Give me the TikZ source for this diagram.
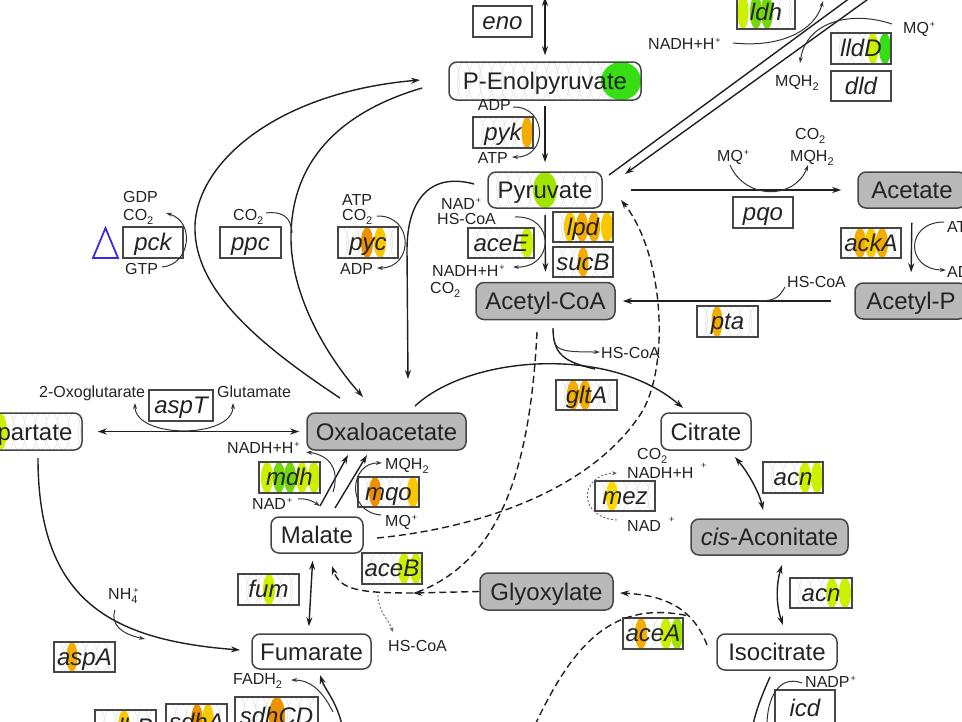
\documentclass[tikz,border=0pt]{standalone}
\usepackage{fontspec}
\setmainfont{Liberation Sans}
\usetikzlibrary{arrows.meta,calc}
\definecolor{bd}{RGB}{70,70,70}
\definecolor{mgray}{RGB}{185,185,185}
\definecolor{ink}{RGB}{35,35,35}
\definecolor{oD}{RGB}{238,145,0}
\definecolor{oM}{RGB}{245,172,0}
\definecolor{oY}{RGB}{250,200,0}
\definecolor{yE}{RGB}{250,218,0}
\definecolor{yG}{RGB}{205,240,0}
\definecolor{gL}{RGB}{160,228,0}
\definecolor{gM}{RGB}{115,215,10}
\definecolor{gB}{RGB}{55,222,20}
\definecolor{tri}{RGB}{60,40,230}
\newcommand\sps{\kern1pt\raisebox{6pt}{\fontsize{9}{9}\selectfont +}}
\newcommand\sbs[1]{\raisebox{-4pt}{\fontsize{11}{11}\selectfont #1}}
\newcommand\decor[6]{%
 \begin{scope}
 \clip[rounded corners=#5] (#1,#2) rectangle (#3,#4);
 \pgfmathsetmacro\dcY{(#2+#4)/2}%
 \pgfmathsetmacro\dcR{(#4-#2)/2}%
 \foreach \k in {0,...,19} {\draw[patt] ({#1+4+11*\k},\dcY) ellipse [x radius=6.5, y radius=\dcR];}
 \foreach \cx/\cc/\rx in {#6} {\fill[\cc] (\cx,\dcY) ellipse [x radius=\rx, y radius=\dcR];}
 \end{scope}}
\newcommand\enzb[6]{%
 \pgfmathsetmacro\ebW{#4-#2}\pgfmathsetmacro\ebH{#5-#3}%
 \pgfmathsetmacro\ebX{(#2+#4)/2}\pgfmathsetmacro\ebY{(#3+#5)/2}%
 \node[enz, minimum width=\ebW pt, minimum height=\ebH pt] (#1) at (\ebX,\ebY) {#6};}
\tikzset{
 met/.style={draw=bd, line width=1.5pt, rounded corners=8pt, inner sep=0pt, font=\fontsize{24}{26}\selectfont, text=ink, text height=17pt, text depth=0pt},
 metg/.style={met, fill=mgray},
 enz/.style={draw=bd, line width=1.3pt, inner sep=0pt, font=\fontsize{24}{26}\selectfont\itshape, text=ink, text height=16pt, text depth=0pt},
 smt/.style={font=\fontsize{16}{18}\selectfont, inner sep=0pt, text=ink},
 patt/.style={draw=black!13, line width=0.5pt},
 lnw/.style={line width=1.4pt, draw=black!88},
 arw/.style={lnw, -{Stealth[length=9pt,width=6pt]}},
 barw/.style={lnw, {Stealth[length=9pt,width=6pt]}-{Stealth[length=9pt,width=6pt]}},
 slnw/.style={line width=1pt, draw=black!80},
 sarw/.style={slnw, -{Stealth[length=6pt,width=4pt]}},
 sbarw/.style={slnw, {Stealth[length=6pt,width=4pt]}-{Stealth[length=6pt,width=4pt]}},
 dshw/.style={dash pattern=on 7pt off 4pt},
 dotw/.style={line width=0.9pt, draw=black!60, dash pattern=on 2pt off 2pt, -{Stealth[length=5pt,width=4pt]}},
}
\begin{document}
\begin{tikzpicture}[x=1pt,y=-1pt]
\useasboundingbox (0,0) rectangle (962,721);
\clip (0,0) rectangle (962,721);
% ---------- decorations (patterns and coloured ellipses)
\decor{449}{62}{641}{100}{8pt}{621/gB/20}
\decor{488}{172}{602}{208}{8pt}{545/gL/12}
\decor{-40}{413}{82}{450}{8pt}{0/yG/7}
\decor{473}{117}{533}{148}{0pt}{527/oM/5.5}
\decor{737}{-5}{795}{29}{0pt}{743/yG/5.5,756/gM/6,767/gM/6}
\decor{831}{33}{891}{64}{0pt}{873/yG/5.5,885/gB/6}
\decor{841}{228}{901}{258}{0pt}{860/oM/6,871/oY/6,882/oM/6}
\decor{697}{306}{758}{337}{0pt}{717/oM/5.5}
\decor{468}{228}{534}{258}{0pt}{527/yG/6}
\decor{553}{212}{613}{242}{0pt}{570/oY/6,582/oM/6,594/oM/6,607/oY/6}
\decor{553}{247}{613}{277}{0pt}{583/oM/5.5}
\decor{556}{380}{617}{410}{0pt}{573/oM/6,585/oM/6}
\decor{338}{227}{398}{258}{0pt}{367/oD/6,380/oY/6}
\decor{259}{462}{320}{493}{0pt}{267/yG/6,279/gM/6,290/gM/6,302/yG/6,314/yG/6}
\decor{358}{477}{419}{507}{0pt}{375/oD/6,413/oY/6}
\decor{595}{481}{655}{511}{0pt}{612/yE/6}
\decor{763}{462}{823}{493}{0pt}{805/yG/6,817/yG/6}
\decor{790}{578}{852}{608}{0pt}{832/yG/6,845/yG/6}
\decor{362}{553}{422}{584}{0pt}{404/yG/6,416/yG/6}
\decor{238}{574}{299}{605}{0pt}{269/yG/6}
\decor{623}{618}{683}{649}{0pt}{641/oM/6,666/yG/6,677/gL/6}
\decor{54}{642}{115}{672}{0pt}{72/oM/5.5}
\decor{235}{697}{318}{735}{0pt}{277/oD/8}
\decor{166}{704}{227}{740}{0pt}{197/oD/6,208/oY/6}
\decor{95}{710}{156}{745}{0pt}{124/oY/6}
% ---------- metabolites
\node[met, minimum width=192pt, minimum height=38pt] (PEP) at (545,81) {P-Enolpyruvate};
\node[met, minimum width=114pt, minimum height=36pt] (Pyr) at (545,190) {Pyruvate};
\node[metg, minimum width=139pt, minimum height=37pt] (AcCoA) at (545.5,301) {Acetyl-CoA};
\node[metg, minimum width=108pt, minimum height=36pt] (Acetate) at (912,190) {Acetate};
\node[metg, minimum width=112pt, minimum height=36pt] (AcP) at (911,301) {Acetyl-P};
\node[metg, minimum width=159pt, minimum height=37pt] (OAA) at (386.5,431.5) {Oxaloacetate};
\node[met, minimum width=90pt, minimum height=37pt] (Cit) at (706,431.5) {Citrate};
\node[met, minimum width=122pt, minimum height=37pt] (Asp) at (21,431.5) {Aspartate};
\node[met, minimum width=92pt, minimum height=36pt] (Mal) at (317,535) {Malate};
\node[met, minimum width=119pt, minimum height=35pt] (Fum) at (311.5,651.5) {Fumarate};
\node[metg, minimum width=157pt, minimum height=36pt] (cisA) at (769.5,537) {{\itshape cis}-Aconitate};
\node[metg, minimum width=133pt, minimum height=37pt] (Glyox) at (546.5,591.5) {Glyoxylate};
\node[met, minimum width=120pt, minimum height=36pt] (Iso) at (777,652) {Isocitrate};
% ---------- enzymes
\enzb{eno}{473}{6}{532}{37}{eno}
\enzb{pyk}{473}{117}{533}{148}{pyk}
\enzb{ldh}{737}{-5}{795}{29}{ldh}
\enzb{lldD}{831}{33}{891}{64}{lldD}
\enzb{dld}{831}{71}{891}{101}{dld}
\enzb{pqo}{733}{197}{793}{228}{pqo}
\enzb{ackA}{841}{228}{901}{258}{ackA}
\enzb{pta}{697}{306}{758}{337}{pta}
\enzb{aceE}{468}{228}{534}{258}{aceE}
\enzb{lpd}{553}{212}{613}{242}{lpd}
\enzb{sucB}{553}{247}{613}{277}{sucB}
\enzb{gltA}{556}{380}{617}{410}{gltA}
\enzb{pck}{123}{227}{183}{258}{pck}
\enzb{ppc}{220}{227}{281}{258}{ppc}
\enzb{pyc}{338}{227}{398}{258}{pyc}
\enzb{aspT}{149}{390}{213}{421}{aspT}
\enzb{mdh}{259}{462}{320}{493}{mdh}
\enzb{mqo}{358}{477}{419}{507}{mqo}
\enzb{mez}{595}{481}{655}{511}{mez}
\enzb{acnA}{763}{462}{823}{493}{acn}
\enzb{acnB}{790}{578}{852}{608}{acn}
\enzb{aceB}{362}{553}{422}{584}{aceB}
\enzb{fum}{238}{574}{299}{605}{fum}
\enzb{aceA}{623}{618}{683}{649}{aceA}
\enzb{aspA}{54}{642}{115}{672}{aspA}
\enzb{icd}{775}{690}{835}{726}{icd}
\enzb{sdhCD}{235}{697}{318}{735}{sdhCD}
\enzb{sdhA}{166}{704}{227}{740}{sdhA}
\enzb{sdhB}{95}{710}{156}{745}{sdhB}
\draw[tri, line width=1.8pt] (93,258) -- (118,258) -- (105.5,228) -- cycle;
% ---------- connectors
\draw[barw, shorten >=6pt] (545,-3) -- (PEP.north);
\draw[arw, shorten <=5pt, shorten >=9pt] (PEP.south) -- (Pyr.north);
\draw[sarw] (513,107) .. controls (548,106) and (548,158) .. (512,157);
\draw[lnw] (609,175) -- (854,-5);
\draw[arw] (871,-3) -- (625,174);
\draw[sarw] (733,43) .. controls (782,48) and (815,30) .. (823,1);
\draw[sarw] (892,24) .. controls (850,10) and (806,22) .. (800,63);
\draw[arw, shorten <=28pt, shorten >=16pt] (Pyr.east) -- (Acetate.west);
\draw[sarw] (730,165) .. controls (745,200) and (795,200) .. (808,165);
\draw[arw, shorten <=14pt, shorten >=10pt] (Acetate.south) -- (AcP.north);
\draw[sarw] (944,222) .. controls (905,222) and (905,270) .. (946,270);
\draw[arw, shorten <=23pt, shorten >=7pt] (AcP.west) -- (AcCoA.east);
\draw[slnw] (785,287) .. controls (778,300) and (772,301) .. (755,301);
\draw[arw, shorten <=6pt, shorten >=10pt] (Pyr.south) -- (AcCoA.north);
\draw[sarw] (515,217) .. controls (555,215) and (555,268) .. (513,267);
\draw[arw] (474,184) .. controls (430,172) and (407,200) .. (407,250) -- (408,379);
\draw[sarw] (377,216) .. controls (414,215) and (414,268) .. (377,268);
\draw[arw] (422,88) .. controls (330,115) and (290,170) .. (291,240) .. controls (292,300) and (330,360) .. (363,397);
\draw[slnw] (266,213) .. controls (284,211) and (291,218) .. (292,233);
\draw[arw] (340,398) .. controls (260,345) and (193,290) .. (195,225) .. controls (198,160) and (280,92) .. (420,80);
\draw[sarw] (162,267) .. controls (190,265) and (196,222) .. (166,213);
\draw[arw] (415,406) .. controls (470,355) and (610,345) .. (683,408);
\draw[lnw] (553,328) .. controls (553,355) and (565,362) .. (595,369);
\draw[sarw] (554,340) .. controls (556,351) and (565,352) .. (600,352);
\draw[lnw, dshw] (537,332) .. controls (530,470) and (500,560) .. (418,592);
\draw[arw, dshw] (377,538) .. controls (480,528) and (590,490) .. (640,415) .. controls (670,370) and (665,255) .. (621,200);
\draw[dotw] (617,520) .. controls (578,518) and (578,475) .. (617,473);
\draw[arw, dshw] (Glyox.west) -- (413,593);
\draw[arw, dshw] (413,593) .. controls (360,593) and (340,590) .. (332,566);
\draw[dotw] (378,595) .. controls (378,612) and (388,618) .. (393,632);
\draw[arw, dshw] (707,645) .. controls (692,605) and (660,595) .. (620,593);
\draw[lnw, dshw] (535,725) .. controls (575,640) and (615,600) .. (689,616);
\draw[barw] (735,457) .. controls (750,475) and (760,495) .. (763,510);
\draw[barw] (782,565) .. controls (776,585) and (776,605) .. (783,625);
\draw[lnw] (770,677) .. controls (762,695) and (756,710) .. (753,725);
\draw[slnw] (802,683) .. controls (778,674) and (767,700) .. (767,725);
\draw[barw, shorten <=15pt, shorten >=7pt] (Asp.east) -- (OAA.west);
\draw[sbarw] (135,403) .. controls (135,439) and (233,439) .. (233,403);
\draw[arw] (38,458) .. controls (38,600) and (110,640) .. (240,650);
\draw[sarw] (115,610) .. controls (110,625) and (122,634) .. (145,639);
\draw[arw] (320,506) -- (348,455);
\draw[sarw] (298,499) .. controls (308,498) and (314,502) .. (320,506);
\draw[sarw] (333,492) .. controls (340,470) and (330,455) .. (306,452);
\draw[arw] (335,508) -- (367,455);
\draw[sarw] (381,515) .. controls (345,512) and (350,462) .. (382,463);
\draw[barw, shorten <=7pt, shorten >=7pt] ($(Mal.south)+(-4,0)$) -- ($(Fum.north)+(-3,0)$);
\draw[arw] (342,725) .. controls (336,700) and (325,690) .. (320,675);
\draw[sarw] (333,712) .. controls (322,690) and (310,680) .. (291,680);
% ---------- small labels
\node[smt, anchor=base west] (t1) at (648,49) {NADH+H\sps};
\node[smt, anchor=base west] (t2) at (903,33) {MQ\sps};
\node[smt, anchor=base west] (t3) at (775,86) {MQH\sbs{2}};
\node[smt, anchor=base east] (t4) at (511,110) {ADP};
\node[smt, anchor=base east] (t5) at (508,163) {ATP};
\node[smt, anchor=base west] (t6) at (717,161) {MQ\sps};
\node[smt, anchor=base west] (t7) at (795,139) {CO\sbs{2}};
\node[smt, anchor=base west] (t8) at (790,161) {MQH\sbs{2}};
\node[smt, anchor=base west] (t9) at (947,232) {ATP};
\node[smt, anchor=base west] (t10) at (947,277) {ADP};
\node[smt, anchor=base west] (t11) at (787,287) {HS-CoA};
\node[smt, anchor=base west] (t12) at (441,209) {NAD\sps};
\node[smt, anchor=base west] (t13) at (437,224) {HS-CoA};
\node[smt, anchor=base west] (t14) at (432,276) {NADH+H\sps};
\node[smt, anchor=base west] (t15) at (430,293) {CO\sbs{2}};
\node[smt, anchor=base west] (t16) at (342,205) {ATP};
\node[smt, anchor=base west] (t17) at (342,220) {CO\sbs{2}};
\node[smt, anchor=base west] (t18) at (340,274) {ADP};
\node[smt, anchor=base west] (t19) at (233,220) {CO\sbs{2}};
\node[smt, anchor=base west] (t20) at (123,202) {GDP};
\node[smt, anchor=base west] (t21) at (123,220) {CO\sbs{2}};
\node[smt, anchor=base west] (t22) at (125,274) {GTP};
\node[smt, anchor=base west] (t23) at (39,397) {2-Oxoglutarate};
\node[smt, anchor=base west] (t24) at (217,397) {Glutamate};
\node[smt, anchor=base west] (t25) at (227,453) {NADH+H\sps};
\node[smt, anchor=base west] (t26) at (252,509) {NAD\sps};
\node[smt, anchor=base west] (t27) at (385,469) {MQH\sbs{2}};
\node[smt, anchor=base west] (t28) at (385,526) {MQ\sps};
\node[smt, anchor=base west] (t29) at (637,459) {CO\sbs{2}};
\node[smt, anchor=base west] (t30) at (627,478) {NADH+H};
\node[smt, anchor=base west] (t31) at (701,468) {\fontsize{9}{9}\selectfont +};
\node[smt, anchor=base west] (t32) at (627,531) {NAD};
\node[smt, anchor=base west] (t33) at (669,522) {\fontsize{9}{9}\selectfont +};
\node[smt, anchor=base west] (t34) at (601,358) {HS-CoA};
\node[smt, anchor=base west] (t35) at (388,651) {HS-CoA};
\node[smt, anchor=base west] (t36) at (108,599) {NH\sbs{4}\kern-5pt\sps};
\node[smt, anchor=base west] (t37) at (233,684) {FADH\sbs{2}};
\node[smt, anchor=base west] (t38) at (805,687) {NADP\sps};
\end{tikzpicture}
\end{document}
